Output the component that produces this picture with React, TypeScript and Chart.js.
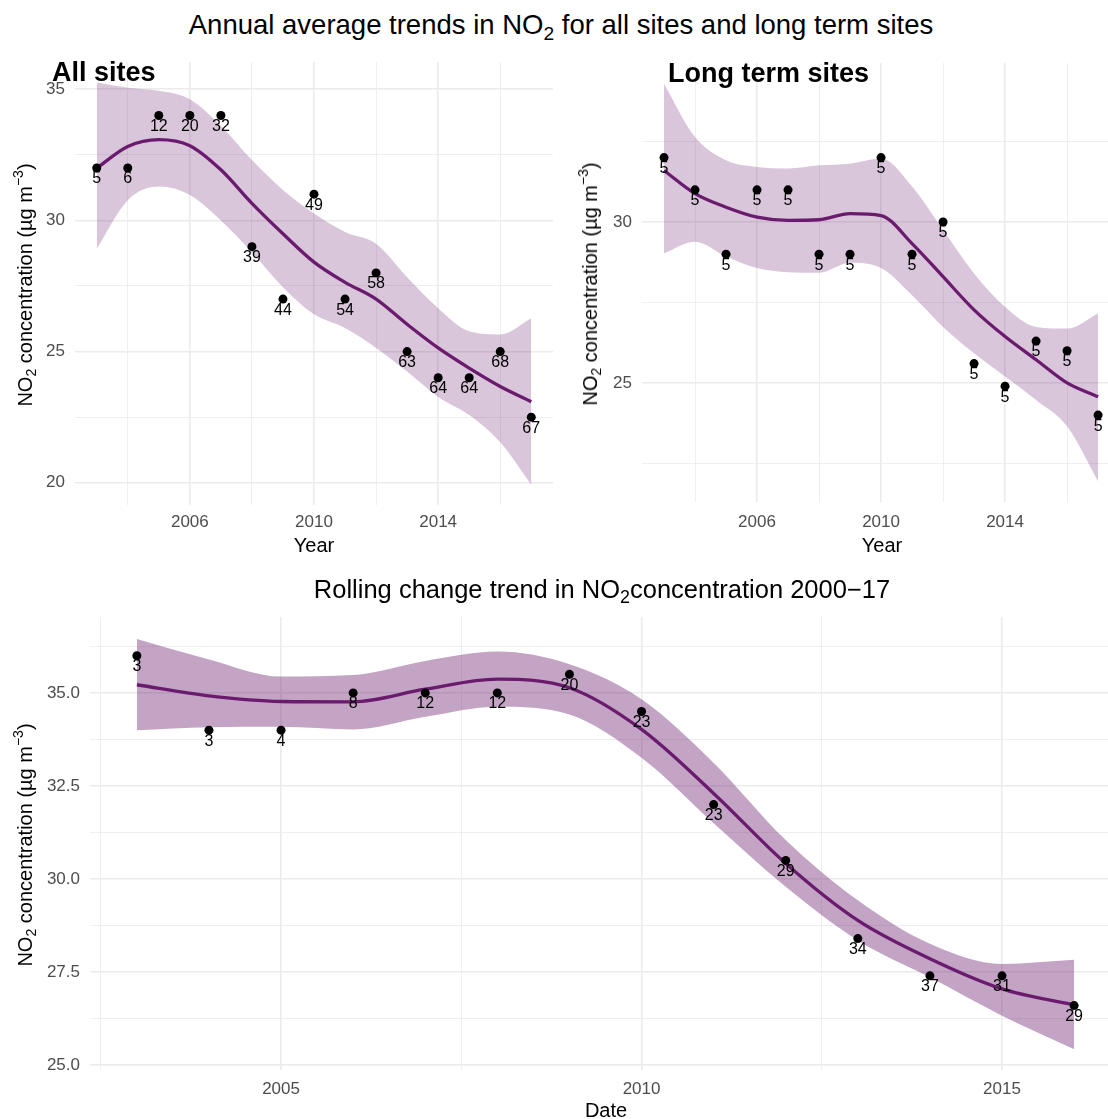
import React, { useEffect, useRef } from "react";
import { Chart, registerables } from "chart.js";

Chart.register(...registerables);

const FONT = "'Liberation Sans', Arial, Helvetica, sans-serif";
const LINE_COLOR = "#6a1b6e";
const GRID = "#ebebeb";
const TICK_COLOR = "#4d4d4d";

// ---------- All sites ----------
const allSitesYears = [2003, 2004, 2005, 2006, 2007, 2008, 2009, 2010, 2011, 2012, 2013, 2014, 2015, 2016, 2017];
const allSitesValues = [32, 32, 34, 34, 34, 29, 27, 31, 27, 28, 25, 24, 24, 25, 22.5];
const allSitesCounts = ["5", "6", "12", "20", "32", "39", "44", "49", "54", "58", "63", "64", "64", "68", "67"];
const allSitesSmooth = [31.99, 32.82, 33.08, 32.85, 31.93, 30.65, 29.49, 28.41, 27.64, 27.0, 26.04, 25.14, 24.37, 23.67, 23.09];
const allSitesUpper = [35.26, 35.06, 34.94, 34.62, 33.6, 32.3, 31.16, 30.26, 29.56, 29.11, 27.83, 26.65, 25.77, 25.65, 26.27];
const allSitesLower = [28.92, 30.77, 31.29, 30.97, 30.0, 28.79, 27.45, 26.42, 25.9, 25.14, 24.24, 23.27, 22.58, 21.54, 19.92];

// ---------- Long term sites ----------
const longTermYears = [2003, 2004, 2005, 2006, 2007, 2008, 2009, 2010, 2011, 2012, 2013, 2014, 2015, 2016, 2017];
const longTermValues = [32, 31, 29, 31, 31, 29, 29, 32, 29, 30, 25.6, 24.9, 26.3, 26, 24];
const longTermCounts = ["5", "5", "5", "5", "5", "5", "5", "5", "5", "5", "5", "5", "5", "5", "5"];
const longTermSmooth = [31.6, 30.88, 30.46, 30.15, 30.05, 30.07, 30.26, 30.2, 29.33, 28.3, 27.27, 26.44, 25.72, 25.0, 24.57];
const longTermUpper = [34.29, 32.64, 31.92, 31.71, 31.66, 31.76, 31.81, 31.97, 31.1, 29.75, 28.4, 27.36, 26.74, 26.69, 27.16];
const longTermLower = [29.03, 29.39, 28.93, 28.57, 28.44, 28.42, 28.73, 28.57, 27.72, 26.74, 25.92, 25.2, 24.47, 23.65, 21.94];

// ---------- Rolling change ----------
const rollingYears = [2003, 2004, 2005, 2006, 2007, 2008, 2009, 2010, 2011, 2012, 2013, 2014, 2015, 2016];
const rollingValues = [36, 34, 34, 35, 35, 35, 35.5, 34.5, 32, 30.5, 28.4, 27.4, 27.4, 26.6];
const rollingCounts = ["3", "3", "4", "8", "12", "12", "20", "23", "23", "29", "34", "37", "31", "29"];
const rollingSmooth = [35.22, 34.92, 34.77, 34.76, 35.1, 35.37, 35.14, 34.02, 32.3, 30.42, 28.89, 27.86, 27.05, 26.62];
const rollingUpper = [36.45, 35.9, 35.44, 35.48, 35.86, 36.11, 35.77, 34.83, 33.12, 31.05, 29.43, 28.26, 27.72, 27.83];
const rollingLower = [34.0, 34.08, 34.09, 34.02, 34.36, 34.63, 34.42, 33.26, 31.5, 29.79, 28.35, 27.36, 26.33, 25.43];

// ---------- Ticks ----------
const yearMajorTicks = [2006, 2010, 2014];
const yearMinorTicks = [2004, 2008, 2012, 2016];
const allSitesYMajor = [20, 25, 30, 35];
const allSitesYMinor = [22.5, 27.5, 32.5];
const longTermYMajor = [25, 30];
const longTermYMinor = [22.5, 27.5, 32.5];
const dateMajorTicks = [2005, 2010, 2015];
const dateMinorTicks = [2002.5, 2007.5, 2012.5];
const rollingYMajor = [25, 27.5, 30, 32.5, 35];
const rollingYMinor = [26.25, 28.75, 31.25, 33.75, 36.25];

type PanelProps = {
  x: number; y: number; w: number; h: number;
  area: { l: number; t: number; r: number; b: number };
  xMin: number; xMax: number; yMin: number; yMax: number;
  xMajor: number[]; xMinor: number[]; yMajor: number[]; yMinor: number[];
  yFmt: (v: number) => string;
  xs: number[]; values: number[]; counts: string[];
  smooth: number[]; upper: number[]; lower: number[];
  bandAlpha: number;
  xPad: number;
};

const pts = (xs: number[], ys: number[]) => xs.map((x, i) => ({ x, y: ys[i] }));

function Panel(p: PanelProps) {
  const ref = useRef<HTMLCanvasElement | null>(null);
  useEffect(() => {
    if (!ref.current) return;
    const yAxisW = p.area.l - p.x;
    const padTop = p.area.t - p.y;
    const padRight = p.x + p.w - p.area.r;
    const xAxisH = p.y + p.h - p.area.b;
    const xTicks = [...p.xMinor, ...p.xMajor].sort((a, b) => a - b);
    const yTicks = [...p.yMinor, ...p.yMajor].sort((a, b) => a - b);
    const labelPlugin = {
      id: "ptLabels",
      afterDatasetsDraw(chart: any) {
        const ctx = chart.ctx;
        const meta = chart.getDatasetMeta(0);
        ctx.save();
        ctx.font = `16px ${FONT}`;
        ctx.fillStyle = "#000";
        ctx.textAlign = "center";
        ctx.textBaseline = "middle";
        meta.data.forEach((el: any, i: number) => {
          ctx.fillText(p.counts[i], el.x, el.y + 11);
        });
        ctx.restore();
      },
    };
    const chart = new Chart(ref.current, {
      type: "line",
      data: {
        datasets: [
          {
            data: pts(p.xs, p.values),
            showLine: false,
            pointRadius: 4.5,
            pointBackgroundColor: "#000",
            pointBorderWidth: 0,
            pointHoverRadius: 4.5,
            order: 0,
          },
          {
            data: pts(p.xs, p.smooth),
            borderColor: LINE_COLOR,
            borderWidth: 3.3,
            pointRadius: 0,
            cubicInterpolationMode: "monotone",
            fill: false,
            order: 1,
          },
          {
            data: pts(p.xs, p.upper),
            borderWidth: 0,
            borderColor: "rgba(0,0,0,0)",
            pointRadius: 0,
            cubicInterpolationMode: "monotone",
            fill: "+1",
            backgroundColor: `rgba(106,27,110,${p.bandAlpha})`,
            order: 2,
          },
          {
            data: pts(p.xs, p.lower),
            borderWidth: 0,
            borderColor: "rgba(0,0,0,0)",
            pointRadius: 0,
            cubicInterpolationMode: "monotone",
            fill: false,
            order: 3,
          },
        ] as any,
      },
      options: {
        animation: false,
        responsive: false,
        devicePixelRatio: 1,
        events: [],
        layout: { autoPadding: false, padding: { top: padTop, right: padRight, left: 0, bottom: 0 } },
        plugins: { legend: { display: false }, tooltip: { enabled: false } },
        scales: {
          x: {
            type: "linear",
            min: p.xMin,
            max: p.xMax,
            afterBuildTicks: (s: any) => {
              s.ticks = xTicks.map((v) => ({ value: v }));
            },
            afterFit: (s: any) => {
              s.height = xAxisH;
              s.paddingLeft = 0;
              s.paddingRight = 0;
            },
            ticks: {
              autoSkip: false,
              maxRotation: 0,
              padding: p.xPad,
              color: TICK_COLOR,
              font: { family: FONT, size: 17 },
              callback: (v: any) => (p.xMajor.includes(Number(v)) ? String(v) : ""),
            },
            grid: {
              color: GRID,
              drawTicks: false,
              lineWidth: (c: any) => (c.tick && p.xMajor.includes(c.tick.value) ? 1.6 : 0.8),
            },
            border: { display: false },
          },
          y: {
            type: "linear",
            min: p.yMin,
            max: p.yMax,
            afterBuildTicks: (s: any) => {
              s.ticks = yTicks.map((v) => ({ value: v }));
            },
            afterFit: (s: any) => {
              s.width = yAxisW;
              s.paddingTop = 0;
              s.paddingBottom = 0;
            },
            ticks: {
              autoSkip: false,
              padding: 10,
              color: TICK_COLOR,
              font: { family: FONT, size: 17 },
              callback: (v: any) => (p.yMajor.includes(Number(v)) ? p.yFmt(Number(v)) : ""),
            },
            grid: {
              color: GRID,
              drawTicks: false,
              lineWidth: (c: any) => (c.tick && p.yMajor.includes(c.tick.value) ? 1.6 : 0.8),
            },
            border: { display: false },
          },
        },
      } as any,
      plugins: [labelPlugin],
    });
    return () => chart.destroy();
  }, []);
  return (
    <canvas
      ref={ref}
      width={p.w}
      height={p.h}
      style={{ position: "absolute", left: p.x, top: p.y, width: p.w, height: p.h }}
    />
  );
}

const subStyle: React.CSSProperties = { fontSize: "0.7em", verticalAlign: "-0.3em", lineHeight: 0 };
const supStyle: React.CSSProperties = { fontSize: "0.7em", verticalAlign: "0.65em", lineHeight: 0 };

function Text(props: { cx: number; cy: number; size: number; bold?: boolean; left?: boolean; children: any }) {
  const style: React.CSSProperties = {
    position: "absolute",
    top: props.cy - 15,
    height: 30,
    lineHeight: "30px",
    fontSize: props.size,
    fontWeight: props.bold ? "bold" : "normal",
    whiteSpace: "nowrap",
    color: "#000",
  };
  if (props.left) {
    style.left = props.cx;
  } else {
    style.left = props.cx - 600;
    style.width = 1200;
    style.textAlign = "center";
  }
  return <div style={style}>{props.children}</div>;
}

function YTitle(props: { cx: number; cy: number }) {
  return (
    <div
      style={{
        position: "absolute",
        left: props.cx,
        top: props.cy,
        transform: "translate(-50%, -50%) rotate(-90deg)",
        fontSize: 20,
        lineHeight: "24px",
        whiteSpace: "nowrap",
        color: "#000",
      }}
    >
      NO<span style={subStyle}>2</span> concentration (µg m<span style={supStyle}>−3</span>)
    </div>
  );
}

export default function App() {
  const fmtInt = (v: number) => String(v);
  const fmt1 = (v: number) => v.toFixed(1);
  return (
    <div
      style={{
        position: "absolute",
        left: 0,
        top: 0,
        width: 1108,
        height: 1119,
        overflow: "hidden",
        background: "#fff",
        fontFamily: FONT,
      }}
    >
      <Panel
        x={0} y={50} w={560} h={510}
        area={{ l: 75, t: 62, r: 553, b: 505 }}
        xMin={2002.3} xMax={2017.7} yMin={19.15} yMax={36.04}
        xMajor={yearMajorTicks} xMinor={yearMinorTicks}
        yMajor={allSitesYMajor} yMinor={allSitesYMinor} yFmt={fmtInt}
        xs={allSitesYears} values={allSitesValues} counts={allSitesCounts}
        smooth={allSitesSmooth} upper={allSitesUpper} lower={allSitesLower}
        bandAlpha={0.25} xPad={7}
      />
      <Panel
        x={560} y={50} w={548} h={510}
        area={{ l: 642, t: 63, r: 1108, b: 502 }}
        xMin={2002.29} xMax={2017.32} yMin={21.3} yMax={34.94}
        xMajor={yearMajorTicks} xMinor={yearMinorTicks}
        yMajor={longTermYMajor} yMinor={longTermYMinor} yFmt={fmtInt}
        xs={longTermYears} values={longTermValues} counts={longTermCounts}
        smooth={longTermSmooth} upper={longTermUpper} lower={longTermLower}
        bandAlpha={0.25} xPad={10}
      />
      <Panel
        x={0} y={600} w={1108} h={519}
        area={{ l: 90, t: 617, r: 1108, b: 1070 }}
        xMin={2002.35} xMax={2016.47} yMin={24.87} yMax={37.04}
        xMajor={dateMajorTicks} xMinor={dateMinorTicks}
        yMajor={rollingYMajor} yMinor={rollingYMinor} yFmt={fmt1}
        xs={rollingYears} values={rollingValues} counts={rollingCounts}
        smooth={rollingSmooth} upper={rollingUpper} lower={rollingLower}
        bandAlpha={0.4} xPad={9}
      />

      <Text cx={561} cy={25} size={27.5}>
        Annual average trends in NO<span style={subStyle}>2</span> for all sites and long term sites
      </Text>
      <Text cx={52} cy={72} size={27} bold left>
        All sites
      </Text>
      <Text cx={668} cy={73} size={27} bold left>
        Long term sites
      </Text>
      <Text cx={314} cy={545} size={20}>Year</Text>
      <Text cx={882} cy={545} size={20}>Year</Text>
      <Text cx={602} cy={589} size={25.5}>
        Rolling change trend in NO<span style={subStyle}>2</span>concentration 2000−17
      </Text>
      <Text cx={606} cy={1110} size={20}>Date</Text>

      <YTitle cx={25} cy={285} />
      <YTitle cx={590} cy={284} />
      <YTitle cx={25} cy={845} />
    </div>
  );
}
